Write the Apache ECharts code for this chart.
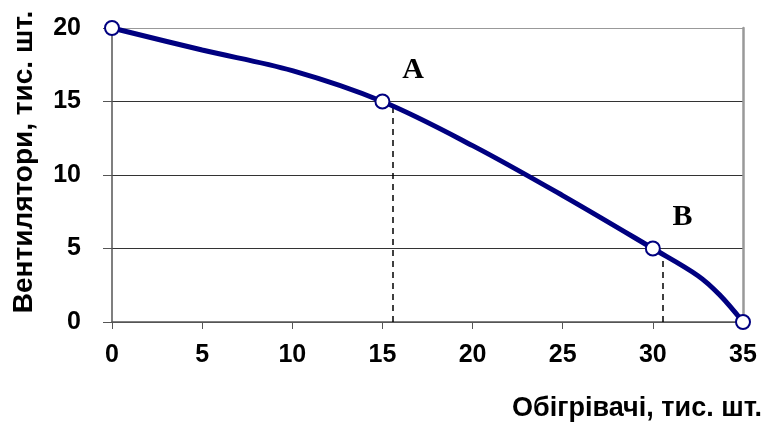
<!DOCTYPE html>
<html>
<head>
<meta charset="utf-8">
<script src="https://cdn.jsdelivr.net/npm/echarts@6/dist/echarts.min.js"></script>
<style>html,body{margin:0;padding:0;background:#fff}#c{width:767px;height:426px}</style>
</head>
<body>
<div id="c"></div>
<script>
// Production possibility curve
const curveX = [0, 5, 10, 15, 20, 25, 30, 32.5, 33.7, 35];
const curveY = [20, 18.5, 17.1, 15, 12.0, 8.6, 5, 3.15, 1.85, 0];
const markedX = [0, 15, 30, 35];
const dashA = [[15.6, 0], [15.6, 14.6]];
const dashB = [[30.55, 0], [30.55, 4.6]];
const pointLabels = ['A', 'B'];
const pointLabelPos = [[16.7, 17.1], [31.65, 7.15]];
const xTitle = 'Обігрівачі, тис. шт.';
const yTitle = 'Вентилятори, тис. шт.';

const chart = echarts.init(document.getElementById('c'));
const lineData = curveX.map((x, i) => {
  const marked = markedX.indexOf(x) >= 0;
  return { value: [x, curveY[i]], symbol: marked ? 'circle' : 'none' };
});
const dashStyle = { color: '#000', type: [6, 5], width: 1.5 };
chart.setOption({
  animation: false,
  grid: { left: 112, right: 24, top: 28, bottom: 104 },
  xAxis: {
    type: 'value', min: 0, max: 35, interval: 5,
    axisLine: { show: true, onZero: false, lineStyle: { color: '#555', width: 1.5 } },
    axisTick: { show: true, inside: false, length: 7, lineStyle: { color: '#555' } },
    splitLine: { show: false },
    axisLabel: { fontFamily: 'Liberation Sans, Arial', fontWeight: 'bold', fontSize: 25, color: '#000', margin: 21 }
  },
  yAxis: [{
    type: 'value', min: 0, max: 20, interval: 5,
    axisLine: { show: true, lineStyle: { color: '#555', width: 1.5 } },
    axisTick: { show: true, length: 9, lineStyle: { color: '#555' } },
    splitLine: { show: true, lineStyle: { color: ['#555', '#333', '#333', '#333', '#999'], width: 1.2 } },
    axisLabel: { fontFamily: 'Liberation Sans, Arial', fontWeight: 'bold', fontSize: 25, color: '#000', margin: 31 }
  }, {
    type: 'value', min: 0, max: 20, position: 'right',
    axisLine: { show: true, lineStyle: { color: '#999', width: 2.5 } },
    axisTick: { show: false }, axisLabel: { show: false }, splitLine: { show: false }
  }],
  series: [{
    type: 'line', data: lineData, smooth: 0.35,
    lineStyle: { color: '#000080', width: 5 },
    symbolSize: 14,
    itemStyle: { color: '#fff', borderColor: '#000080', borderWidth: 2 },
    z: 5,
    markLine: {
      silent: true, symbol: 'none', label: { show: false },
      lineStyle: dashStyle,
      data: [
        [{ coord: dashA[0] }, { coord: dashA[1] }],
        [{ coord: dashB[0] }, { coord: dashB[1] }]
      ],
      z: 3
    }
  }, {
    type: 'scatter', symbolSize: 0, silent: true,
    itemStyle: { color: '#000', opacity: 1 },
    data: pointLabelPos.map((p, i) => ({ value: p, name: pointLabels[i] })),
    label: { show: true, position: 'inside', formatter: p => p.name,
      fontFamily: 'Liberation Serif', fontWeight: 'bold', fontSize: 30,
      color: '#000', opacity: 1, textBorderWidth: 0 }
  }],
  graphic: [{
    type: 'text', right: 5, top: 395,
    style: { text: xTitle, fontFamily: 'Liberation Sans, Arial', fontWeight: 'bold', fontSize: 27, fill: '#000' }
  }, {
    type: 'text', x: 24, y: 162, rotation: Math.PI / 2,
    style: { text: yTitle, fontFamily: 'Liberation Sans, Arial', fontWeight: 'bold', fontSize: 28, fill: '#000', align: 'center', verticalAlign: 'middle' }
  }]
});
</script>
</body>
</html>
